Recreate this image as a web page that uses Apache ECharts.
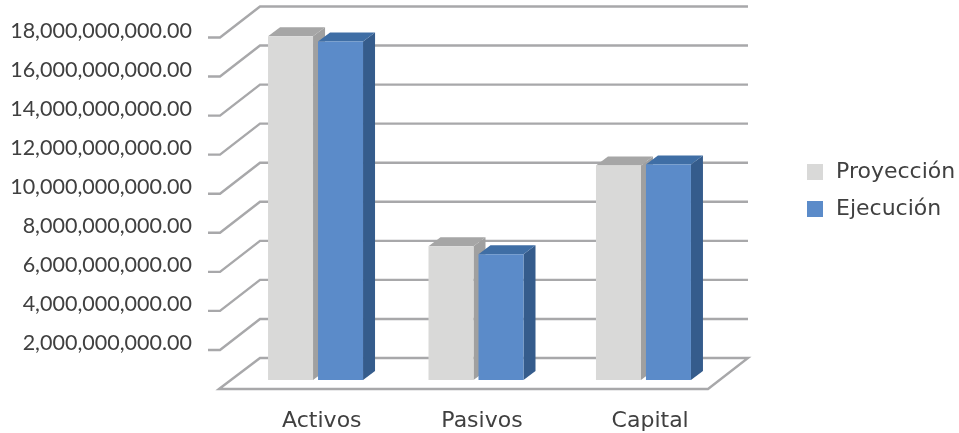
<!DOCTYPE html>
<html><head><meta charset="utf-8">
<style>html,body{margin:0;padding:0;background:#fff}#c{width:959px;height:433px}</style>
<script src="https://cdn.jsdelivr.net/npm/echarts@6/dist/echarts.min.js"></script>
</head><body><div id="c"></div>
<script>
const categories = ['Activos', 'Pasivos', 'Capital'];
const proyeccion = [17600000000, 6850000000, 10990000000];
const ejecucion = [17330000000, 6440000000, 11040000000];
const tickValues = [0, 2e9, 4e9, 6e9, 8e9, 10e9, 12e9, 14e9, 16e9, 18e9];

const FONT = 'Lato', FS = 21.5, TXT = '#404040', GRID = '#a8a8aa';
const LFONT = '"DejaVu Sans"', LFS = 22;
const DX = 40, DY = 31;            // wall depth
const BX = 12, BY = 9;             // bar depth
const barNudge = [14.2, 12, 16.8]; // bar cluster shift within a category
const plot = { left: 220, right: 708, top: 37.5, bottom: 389 };

const chart = echarts.init(document.getElementById('c'), null, { renderer: 'canvas' });

function wallItem(params, api) {
  const v = api.value(1);
  const y = api.coord([0, v])[1];
  const L = plot.left, R = plot.right;
  const stroke = { stroke: GRID, lineWidth: 2.4, fill: null, lineJoin: 'miter' };
  if (v === 0) {
    return { type: 'polygon', shape: { points: [[L - 1, y], [L + DX, y - DY], [R + DX, y - DY], [R, y]] }, style: stroke, silent: true };
  }
  return { type: 'polyline', shape: { points: [[L - 12, y], [L, y], [L + DX, y - DY], [R + DX, y - DY]] }, style: stroke, silent: true };
}

function barRenderer(side, front, sideCol, topCol) {
  return function (params, api) {
    const c = api.value(0);
    const base = api.coord([c, 0]);
    const top = api.coord([c, api.value(1)]);
    const cx = base[0] + barNudge[c];
    const x0 = side < 0 ? cx - 47.5 : cx + 2.5;
    const x1 = x0 + 45;
    const yb = base[1] - BY, yt = top[1] - BY;
    return {
      type: 'group', children: [
        { type: 'polygon', shape: { points: [[x1, yt], [x1 + BX, yt - BY], [x1 + BX, yb - BY], [x1, yb]] }, style: { fill: sideCol } },
        { type: 'polygon', shape: { points: [[x0, yt], [x0 + BX, yt - BY], [x1 + BX, yt - BY], [x1, yt]] }, style: { fill: topCol } },
        { type: 'rect', shape: { x: x0, y: yt, width: x1 - x0, height: yb - yt }, style: { fill: front } }
      ]
    };
  };
}

chart.setOption({
  animation: false,
  backgroundColor: '#ffffff',
  grid: { left: plot.left, top: plot.top, width: plot.right - plot.left, height: plot.bottom - plot.top, containLabel: false },
  legend: {
    orient: 'vertical', left: 807, top: 161, padding: 0, itemWidth: 16, itemHeight: 16, itemGap: 15, icon: 'rect',
    data: ['Proyección', 'Ejecución'], selectedMode: false,
    textStyle: { fontFamily: LFONT, fontSize: LFS, color: TXT, padding: [0, 0, 0, 8] }
  },
  xAxis: {
    type: 'category', data: categories,
    axisLine: { show: false }, axisTick: { show: false }, splitLine: { show: false },
    axisLabel: {
      margin: 21, interval: 0,
      formatter: (s, i) => '{c' + i + '|' + s + '}',
      rich: {
        c0: { fontFamily: LFONT, fontSize: LFS, color: TXT, padding: [0, 0, 0, 41] },
        c1: { fontFamily: LFONT, fontSize: LFS, color: TXT, padding: [0, 0, 0, 36] },
        c2: { fontFamily: LFONT, fontSize: LFS, color: TXT, padding: [0, 0, 0, 47] }
      }
    }
  },
  yAxis: {
    type: 'value', min: 0, max: 18e9, interval: 2e9,
    axisLine: { show: false }, axisTick: { show: false }, splitLine: { show: false },
    axisLabel: {
      margin: 28, fontFamily: FONT, fontSize: FS, color: TXT, verticalAlign: 'bottom', lineHeight: 13,
      formatter: v => v === 0 ? '' : v.toLocaleString('en-US', { minimumFractionDigits: 2, maximumFractionDigits: 2 })
    }
  },
  series: [
    { type: 'custom', name: 'walls', silent: true, z: 1, renderItem: wallItem, data: tickValues.map(v => [0, v]), encode: { x: 0, y: 1 } },
    { type: 'custom', name: 'Proyección', z: 2, itemStyle: { color: '#d9d9d8' }, renderItem: barRenderer(-1, '#d9d9d8', '#a0a0a0', '#a6a6a6'), data: proyeccion.map((v, i) => [i, v]), encode: { x: 0, y: 1 } },
    { type: 'custom', name: 'Ejecución', z: 3, itemStyle: { color: '#5b8bc9' }, renderItem: barRenderer(1, '#5b8bc9', '#355c8c', '#3f6ea5'), data: ejecucion.map((v, i) => [i, v]), encode: { x: 0, y: 1 } }
  ]
});
</script></body></html>
